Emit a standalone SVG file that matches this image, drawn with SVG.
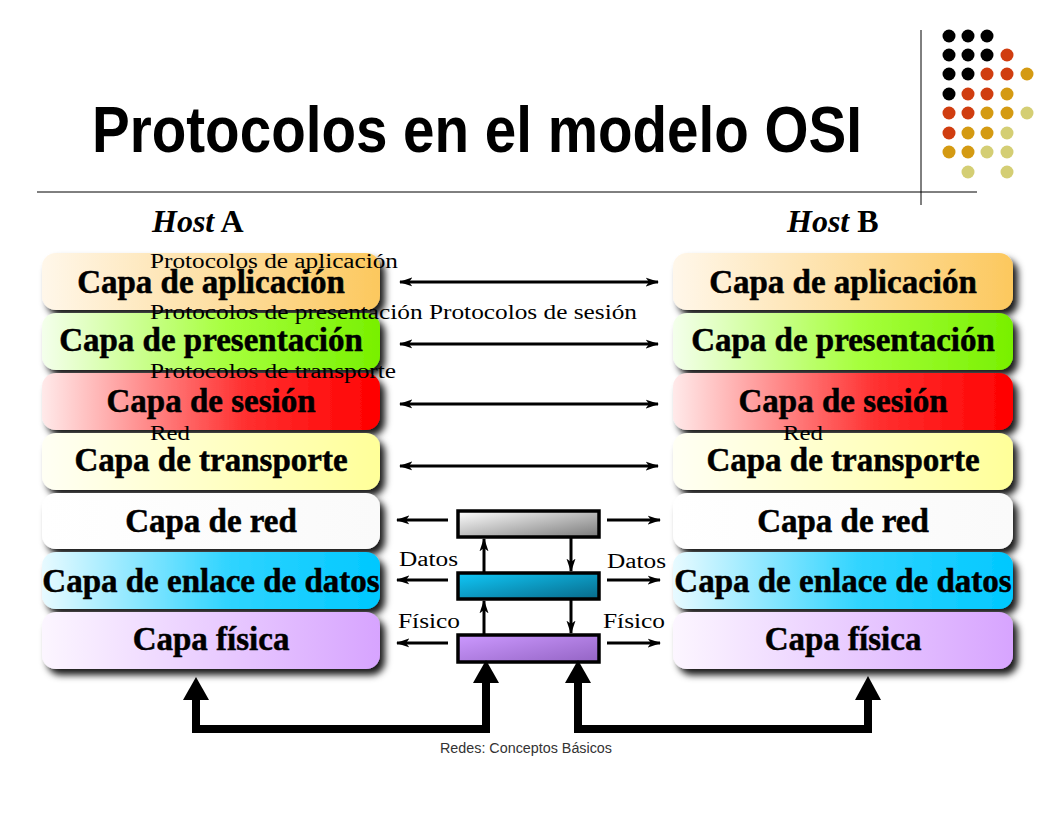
<svg xmlns="http://www.w3.org/2000/svg" width="1056" height="816" viewBox="0 0 1056 816">
<defs>
<style>
.lay{font-family:"Liberation Serif","Times New Roman",serif;font-weight:bold;font-size:33px;fill:#000;stroke:#000;stroke-width:0.5;text-anchor:middle}
.ov{font-family:"Liberation Serif","Times New Roman",serif;font-size:20px;fill:#000}
.host{font-family:"Liberation Serif","Times New Roman",serif;font-weight:bold;font-size:32px;fill:#000}
.thin{stroke:#000;stroke-width:3;fill:none}
.thick{stroke:#000;stroke-width:8;fill:none}
.rt{stroke:#000;stroke-width:3.5}
</style>
<filter id="sh" x="-10%" y="-30%" width="125%" height="180%">
<feDropShadow dx="5" dy="6" stdDeviation="3.5" flood-color="#000" flood-opacity="0.9"/>
</filter>
<marker id="ah" viewBox="0 0 12 8" refX="11" refY="4" markerWidth="4.5" markerHeight="3.2" orient="auto-start-reverse" markerUnits="strokeWidth">
<path d="M0,0 L12,4 L0,8 L3,4 z" fill="#000"/>
</marker>
<linearGradient id="gApp" x1="0" y1="0" x2="1" y2="0"><stop offset="0" stop-color="#FFF7EA"/><stop offset="1" stop-color="#FCC85E"/></linearGradient>
<linearGradient id="gPres" x1="0" y1="0" x2="1" y2="0"><stop offset="0" stop-color="#F4FFEC"/><stop offset="0.55" stop-color="#A6FF3C"/><stop offset="1" stop-color="#78F000"/></linearGradient>
<linearGradient id="gSes" x1="0" y1="0" x2="1" y2="0"><stop offset="0" stop-color="#FFEAEA"/><stop offset="0.6" stop-color="#FF3030"/><stop offset="1" stop-color="#FF0000"/></linearGradient>
<linearGradient id="gTra" x1="0" y1="0" x2="1" y2="0"><stop offset="0" stop-color="#FFFFF4"/><stop offset="1" stop-color="#FFFF99"/></linearGradient>
<linearGradient id="gRed" x1="0" y1="0" x2="1" y2="0"><stop offset="0" stop-color="#FFFFFF"/><stop offset="1" stop-color="#FAFAFA"/></linearGradient>
<linearGradient id="gEnl" x1="0" y1="0" x2="1" y2="0"><stop offset="0" stop-color="#E8FAFF"/><stop offset="0.55" stop-color="#30D4FF"/><stop offset="1" stop-color="#00C8FF"/></linearGradient>
<linearGradient id="gFis" x1="0" y1="0" x2="1" y2="0"><stop offset="0" stop-color="#FCF6FF"/><stop offset="1" stop-color="#D7A4FF"/></linearGradient>
<linearGradient id="rTop" x1="0" y1="0" x2="1" y2="1"><stop offset="0" stop-color="#FFFFFF"/><stop offset="1" stop-color="#7A7A7A"/></linearGradient>
<linearGradient id="rMid" x1="0" y1="0" x2="1" y2="1"><stop offset="0" stop-color="#10C8F8"/><stop offset="1" stop-color="#086A8A"/></linearGradient>
<linearGradient id="rBot" x1="0" y1="0" x2="1" y2="1"><stop offset="0" stop-color="#CC99FF"/><stop offset="1" stop-color="#9464C4"/></linearGradient>
</defs>
<rect width="1056" height="816" fill="#FFFFFF"/>

<g id="decor">
<line x1="921" y1="30" x2="921" y2="205" stroke="#000" stroke-width="1"/>
<line x1="37" y1="192" x2="977" y2="192" stroke="#000" stroke-width="1"/>
<g id="dots">
<circle cx="949" cy="36" r="6.5" fill="#000"/><circle cx="968" cy="36" r="6.5" fill="#000"/><circle cx="987" cy="36" r="6.5" fill="#000"/>
<circle cx="949" cy="55" r="6.5" fill="#000"/><circle cx="968" cy="55" r="6.5" fill="#000"/><circle cx="987" cy="55" r="6.5" fill="#000"/><circle cx="1007" cy="55" r="6.5" fill="#D03D10"/>
<circle cx="949" cy="74" r="6.5" fill="#000"/><circle cx="968" cy="74" r="6.5" fill="#000"/><circle cx="987" cy="74" r="6.5" fill="#D03D10"/><circle cx="1007" cy="74" r="6.5" fill="#D03D10"/><circle cx="1027" cy="74" r="6.5" fill="#D49A12"/>
<circle cx="949" cy="94" r="6.5" fill="#000"/><circle cx="968" cy="94" r="6.5" fill="#D03D10"/><circle cx="987" cy="94" r="6.5" fill="#D03D10"/><circle cx="1007" cy="94" r="6.5" fill="#D49A12"/>
<circle cx="949" cy="113" r="6.5" fill="#D03D10"/><circle cx="968" cy="113" r="6.5" fill="#D03D10"/><circle cx="987" cy="113" r="6.5" fill="#D49A12"/><circle cx="1007" cy="113" r="6.5" fill="#D49A12"/><circle cx="1027" cy="113" r="6.5" fill="#D4CE74"/>
<circle cx="949" cy="133" r="6.5" fill="#D03D10"/><circle cx="968" cy="133" r="6.5" fill="#D49A12"/><circle cx="987" cy="133" r="6.5" fill="#D49A12"/><circle cx="1007" cy="133" r="6.5" fill="#D4CE74"/>
<circle cx="949" cy="152" r="6.5" fill="#D49A12"/><circle cx="968" cy="152" r="6.5" fill="#D49A12"/><circle cx="987" cy="152" r="6.5" fill="#D4CE74"/><circle cx="1007" cy="152" r="6.5" fill="#D4CE74"/>
<circle cx="968" cy="172" r="6.5" fill="#D4CE74"/><circle cx="1007" cy="172" r="6.5" fill="#D4CE74"/>
</g>
</g>

<text id="title" x="92" y="152" font-family="'Liberation Sans',Arial,sans-serif" font-weight="bold" font-size="64" textLength="770" lengthAdjust="spacingAndGlyphs" fill="#000">Protocolos en el modelo OSI</text>

<text class="host" x="152" y="232"><tspan font-style="italic">Host</tspan> A</text>
<text class="host" x="787" y="232"><tspan font-style="italic">Host</tspan> B</text>

<g id="hostA">
<g id="a-app"><rect x="42" y="253" width="338" height="57" rx="14" fill="url(#gApp)" filter="url(#sh)"/><text class="lay" x="211" y="293">Capa de aplicación</text></g>
<g id="a-pres"><rect x="42" y="313" width="338" height="57" rx="14" fill="url(#gPres)" filter="url(#sh)"/><text class="lay" x="211" y="351">Capa de presentación</text></g>
<g id="a-ses"><rect x="42" y="373" width="338" height="57" rx="14" fill="url(#gSes)" filter="url(#sh)"/><text class="lay" x="211" y="412">Capa de sesión</text></g>
<g id="a-tra"><rect x="42" y="433" width="338" height="57" rx="14" fill="url(#gTra)" filter="url(#sh)"/><text class="lay" x="211" y="471">Capa de transporte</text></g>
<g id="a-red"><rect x="42" y="493" width="338" height="56" rx="14" fill="url(#gRed)" filter="url(#sh)"/><text class="lay" x="211" y="532">Capa de red</text></g>
<g id="a-enl"><rect x="42" y="552" width="338" height="57" rx="14" fill="url(#gEnl)" filter="url(#sh)"/><text class="lay" x="211" y="592">Capa de enlace de datos</text></g>
<g id="a-fis"><rect x="42" y="612" width="338" height="57" rx="14" fill="url(#gFis)" filter="url(#sh)"/><text class="lay" x="211" y="650">Capa física</text></g>
</g>

<g id="hostB">
<g id="b-app"><rect x="673" y="253" width="340" height="57" rx="14" fill="url(#gApp)" filter="url(#sh)"/><text class="lay" x="843" y="293">Capa de aplicación</text></g>
<g id="b-pres"><rect x="673" y="313" width="340" height="57" rx="14" fill="url(#gPres)" filter="url(#sh)"/><text class="lay" x="843" y="351">Capa de presentación</text></g>
<g id="b-ses"><rect x="673" y="373" width="340" height="57" rx="14" fill="url(#gSes)" filter="url(#sh)"/><text class="lay" x="843" y="412">Capa de sesión</text></g>
<g id="b-tra"><rect x="673" y="433" width="340" height="57" rx="14" fill="url(#gTra)" filter="url(#sh)"/><text class="lay" x="843" y="471">Capa de transporte</text></g>
<g id="b-red"><rect x="673" y="493" width="340" height="56" rx="14" fill="url(#gRed)" filter="url(#sh)"/><text class="lay" x="843" y="532">Capa de red</text></g>
<g id="b-enl"><rect x="673" y="552" width="340" height="57" rx="14" fill="url(#gEnl)" filter="url(#sh)"/><text class="lay" x="843" y="592">Capa de enlace de datos</text></g>
<g id="b-fis"><rect x="673" y="612" width="340" height="57" rx="14" fill="url(#gFis)" filter="url(#sh)"/><text class="lay" x="843" y="650">Capa física</text></g>
</g>

<g id="router">
<g id="r-red"><rect class="rt" x="458" y="511" width="141" height="26" fill="url(#rTop)"/></g>
<g id="r-enl"><rect class="rt" x="458" y="573" width="141" height="26" fill="url(#rMid)"/></g>
<g id="r-fis"><rect class="rt" x="458" y="635" width="141" height="27" fill="url(#rBot)"/></g>
</g>

<g id="connectors">
<line class="thin" x1="400" y1="282" x2="658" y2="282" marker-start="url(#ah)" marker-end="url(#ah)"/>
<line class="thin" x1="400" y1="344" x2="658" y2="344" marker-start="url(#ah)" marker-end="url(#ah)"/>
<line class="thin" x1="400" y1="404" x2="658" y2="404" marker-start="url(#ah)" marker-end="url(#ah)"/>
<line class="thin" x1="400" y1="466" x2="658" y2="466" marker-start="url(#ah)" marker-end="url(#ah)"/>
<line class="thin" x1="448" y1="520" x2="397" y2="520" marker-end="url(#ah)"/>
<line class="thin" x1="448" y1="580" x2="397" y2="580" marker-end="url(#ah)"/>
<line class="thin" x1="448" y1="643" x2="397" y2="643" marker-end="url(#ah)"/>
<line class="thin" x1="607" y1="520" x2="660" y2="520" marker-end="url(#ah)"/>
<line class="thin" x1="607" y1="580" x2="660" y2="580" marker-end="url(#ah)"/>
<line class="thin" x1="607" y1="643" x2="660" y2="643" marker-end="url(#ah)"/>
<line class="thin" x1="484" y1="572" x2="484" y2="539" marker-end="url(#ah)"/>
<line class="thin" x1="484" y1="634" x2="484" y2="601" marker-end="url(#ah)"/>
<line class="thin" x1="571" y1="538" x2="571" y2="571" marker-end="url(#ah)"/>
<line class="thin" x1="571" y1="600" x2="571" y2="633" marker-end="url(#ah)"/>
<path class="thick" d="M196,698 V729 H486 V681" stroke-linejoin="miter"/>
<path class="thick" d="M578,681 V729 H868 V698" stroke-linejoin="miter"/>
<polygon points="196,677 183,700 209,700" fill="#000"/>
<polygon points="486,660 473,683 499,683" fill="#000"/>
<polygon points="578,660 565,683 591,683" fill="#000"/>
<polygon points="868,676 855,700 881,700" fill="#000"/>
</g>

<g id="labels">
<text class="ov" x="150" y="268" textLength="248" lengthAdjust="spacingAndGlyphs">Protocolos de aplicación</text>
<text class="ov" x="150" y="319" textLength="487" lengthAdjust="spacingAndGlyphs">Protocolos de presentación Protocolos de sesión</text>
<text class="ov" x="150" y="378" textLength="246" lengthAdjust="spacingAndGlyphs">Protocolos de transporte</text>
<text class="ov" x="150" y="440" textLength="40" lengthAdjust="spacingAndGlyphs">Red</text>
<text class="ov" x="783" y="440" textLength="40" lengthAdjust="spacingAndGlyphs">Red</text>
<text class="ov" x="399" y="566" textLength="59" lengthAdjust="spacingAndGlyphs">Datos</text>
<text class="ov" x="607" y="568" textLength="59" lengthAdjust="spacingAndGlyphs">Datos</text>
<text class="ov" x="398" y="628" textLength="62" lengthAdjust="spacingAndGlyphs">Físico</text>
<text class="ov" x="603" y="628" textLength="62" lengthAdjust="spacingAndGlyphs">Físico</text>
</g>

<text id="footer" x="440" y="753" font-family="'Liberation Sans',Arial,sans-serif" font-size="14" fill="#333" textLength="172" lengthAdjust="spacingAndGlyphs">Redes: Conceptos Básicos</text>
</svg>
